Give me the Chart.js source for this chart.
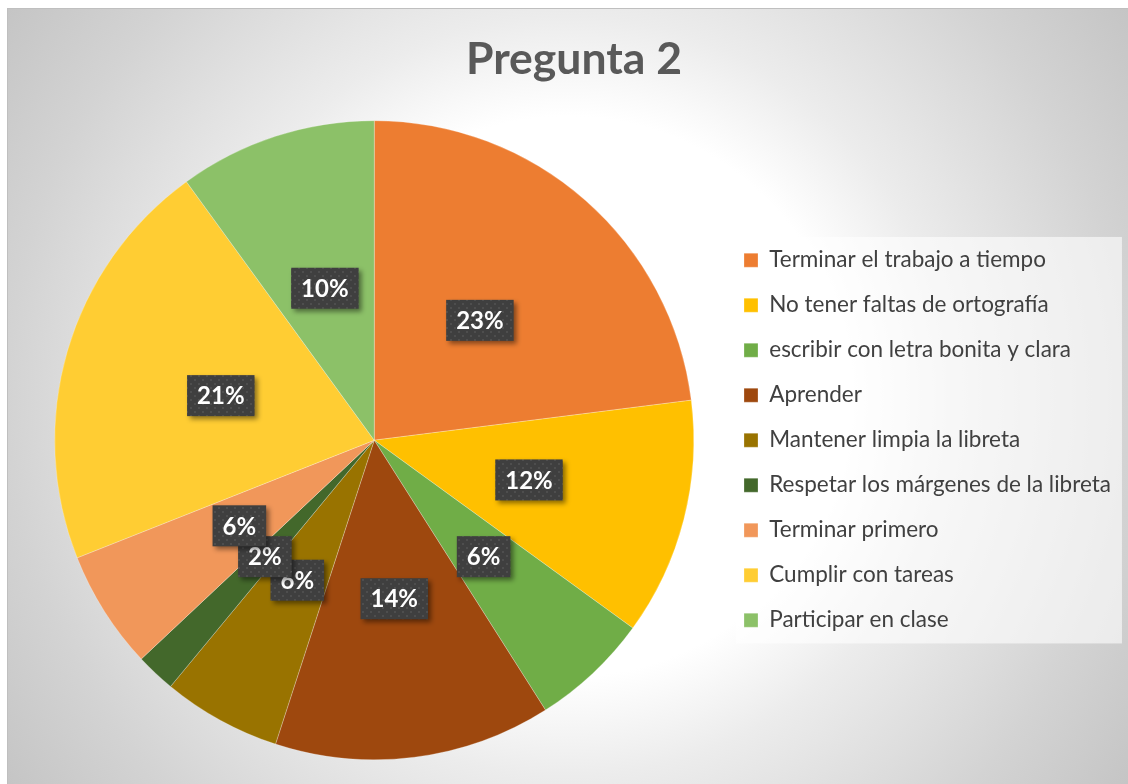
<!DOCTYPE html>
<html>
<head>
<meta charset="utf-8">
<script src="https://cdn.jsdelivr.net/npm/chart.js@4.4.0/dist/chart.umd.min.js"></script>
<style>
    html, body { margin: 0; padding: 0; background: #fff; overflow: hidden; }
    #wrap {
        position: absolute; left: 7px; top: 8px; width: 1121px; height: 776px;
        box-sizing: border-box;
        border-left: 1px solid #bfbfbf; border-top: 1px solid #bfbfbf;
        background: radial-gradient(circle at 50% 50%, #ffffff 0px, #ffffff 280px, #ececec 380px, #d3d3d3 560px, #c5c5c5 680px);
    }
    canvas { display: block; }
</style>
</head>
<body>
<div id="wrap"><canvas id="chart" width="1120" height="775"></canvas></div>
<script>
const titleText = 'Pregunta 2';
const categories = [
    'Terminar el trabajo a tiempo',
    'No tener faltas de ortografía',
    'escribir con letra bonita y clara',
    'Aprender',
    'Mantener limpia la libreta',
    'Respetar los márgenes de la libreta',
    'Terminar primero',
    'Cumplir con tareas',
    'Participar en clase'
];
const values = [23, 12, 6, 14, 6, 2, 6, 21, 10];
const colors = ['#ED7D31', '#FFC000', '#70AD47', '#9E480E', '#997300', '#43682B', '#F1975A', '#FFCD33', '#8CC168'];

const legendFont = { family: 'Lato', size: 22.5 };
const legendBox = 14;
const legendPad = 45 - legendFont.size;

// ancho de la leyenda para colocarla donde va
const mctx = document.createElement('canvas').getContext('2d');
mctx.font = legendFont.size + 'px ' + legendFont.family;
let maxText = 0;
categories.forEach(c => { maxText = Math.max(maxText, mctx.measureText(c).width); });
const legendWidth = legendPad + legendBox + legendFont.size / 2 + maxText + 10;
const legendLeft = 736 - legendPad;
const padRight = Math.max(0, 1120 - legendLeft - legendWidth);

// fondo punteado de las etiquetas
const pc = document.createElement('canvas');
pc.width = 8; pc.height = 8;
const pctx = pc.getContext('2d');
pctx.fillStyle = '#3f3f3f';
pctx.fillRect(0, 0, 8, 8);
pctx.fillStyle = '#4e4e4e';
pctx.fillRect(2, 2, 2, 2);
pctx.fillRect(6, 6, 2, 2);

const legendBg = {
    id: 'legendBg',
    beforeDraw(chart) {
        const lg = chart.legend;
        if (!lg || !lg.legendHitBoxes.length) return;
        const hb = lg.legendHitBoxes;
        let right = 0;
        hb.forEach(b => { right = Math.max(right, b.left + b.width); });
        const x0 = hb[0].left - 8;
        const y0 = hb[0].top - 12;
        const y1 = hb[hb.length - 1].top + hb[hb.length - 1].height + 12;
        const ctx = chart.ctx;
        ctx.save();
        ctx.fillStyle = 'rgba(255,255,255,0.6)';
        ctx.fillRect(x0, y0, right + 11 - x0, y1 - y0);
        ctx.restore();
    }
};

const labelBoxes = {
    id: 'labelBoxes',
    afterDatasetsDraw(chart) {
        const ctx = chart.ctx;
        const meta = chart.getDatasetMeta(0);
        const total = values.reduce((a, b) => a + b, 0);
        const pattern = ctx.createPattern(pc, 'repeat');
        ctx.save();
        ctx.font = 'bold 24px Lato';
        ctx.textAlign = 'center';
        ctx.textBaseline = 'middle';
        meta.data.forEach((arc, i) => {
            const pos = arc.tooltipPosition();
            const txt = Math.round(values[i] / total * 100) + '%';
            const w = ctx.measureText(txt).width + 20;
            const h = 41;
            ctx.shadowColor = 'rgba(0,0,0,0.45)';
            ctx.shadowBlur = 5;
            ctx.shadowOffsetX = 3;
            ctx.shadowOffsetY = 3;
            ctx.fillStyle = pattern;
            ctx.fillRect(pos.x - w / 2, pos.y - h / 2, w, h);
            ctx.shadowColor = 'transparent';
            ctx.fillStyle = '#ffffff';
            ctx.fillText(txt, pos.x, pos.y + 1);
        });
        ctx.restore();
    }
};

const chart = new Chart(document.getElementById('chart'), {
    type: 'pie',
    data: {
        labels: categories,
        datasets: [{
            data: values,
            backgroundColor: colors,
            borderColor: 'rgba(255,255,255,0.5)',
            borderWidth: 0.5
        }]
    },
    options: {
        responsive: false,
        animation: false,
        layout: { padding: { left: 19, right: padRight, top: 0, bottom: 24 } },
        plugins: {
            title: {
                display: true,
                text: titleText,
                color: '#595959',
                font: { family: 'Lato', size: 44.5, weight: 'bold' },
                padding: { top: 24, bottom: 34 }
            },
            legend: {
                position: 'right',
                align: 'center',
                fullSize: false,
                labels: {
                    boxWidth: legendBox,
                    boxHeight: legendBox,
                    padding: legendPad,
                    color: '#404040',
                    font: legendFont
                }
            },
            tooltip: { enabled: false }
        }
    },
    plugins: [legendBg, labelBoxes]
});
</script>
</body>
</html>
